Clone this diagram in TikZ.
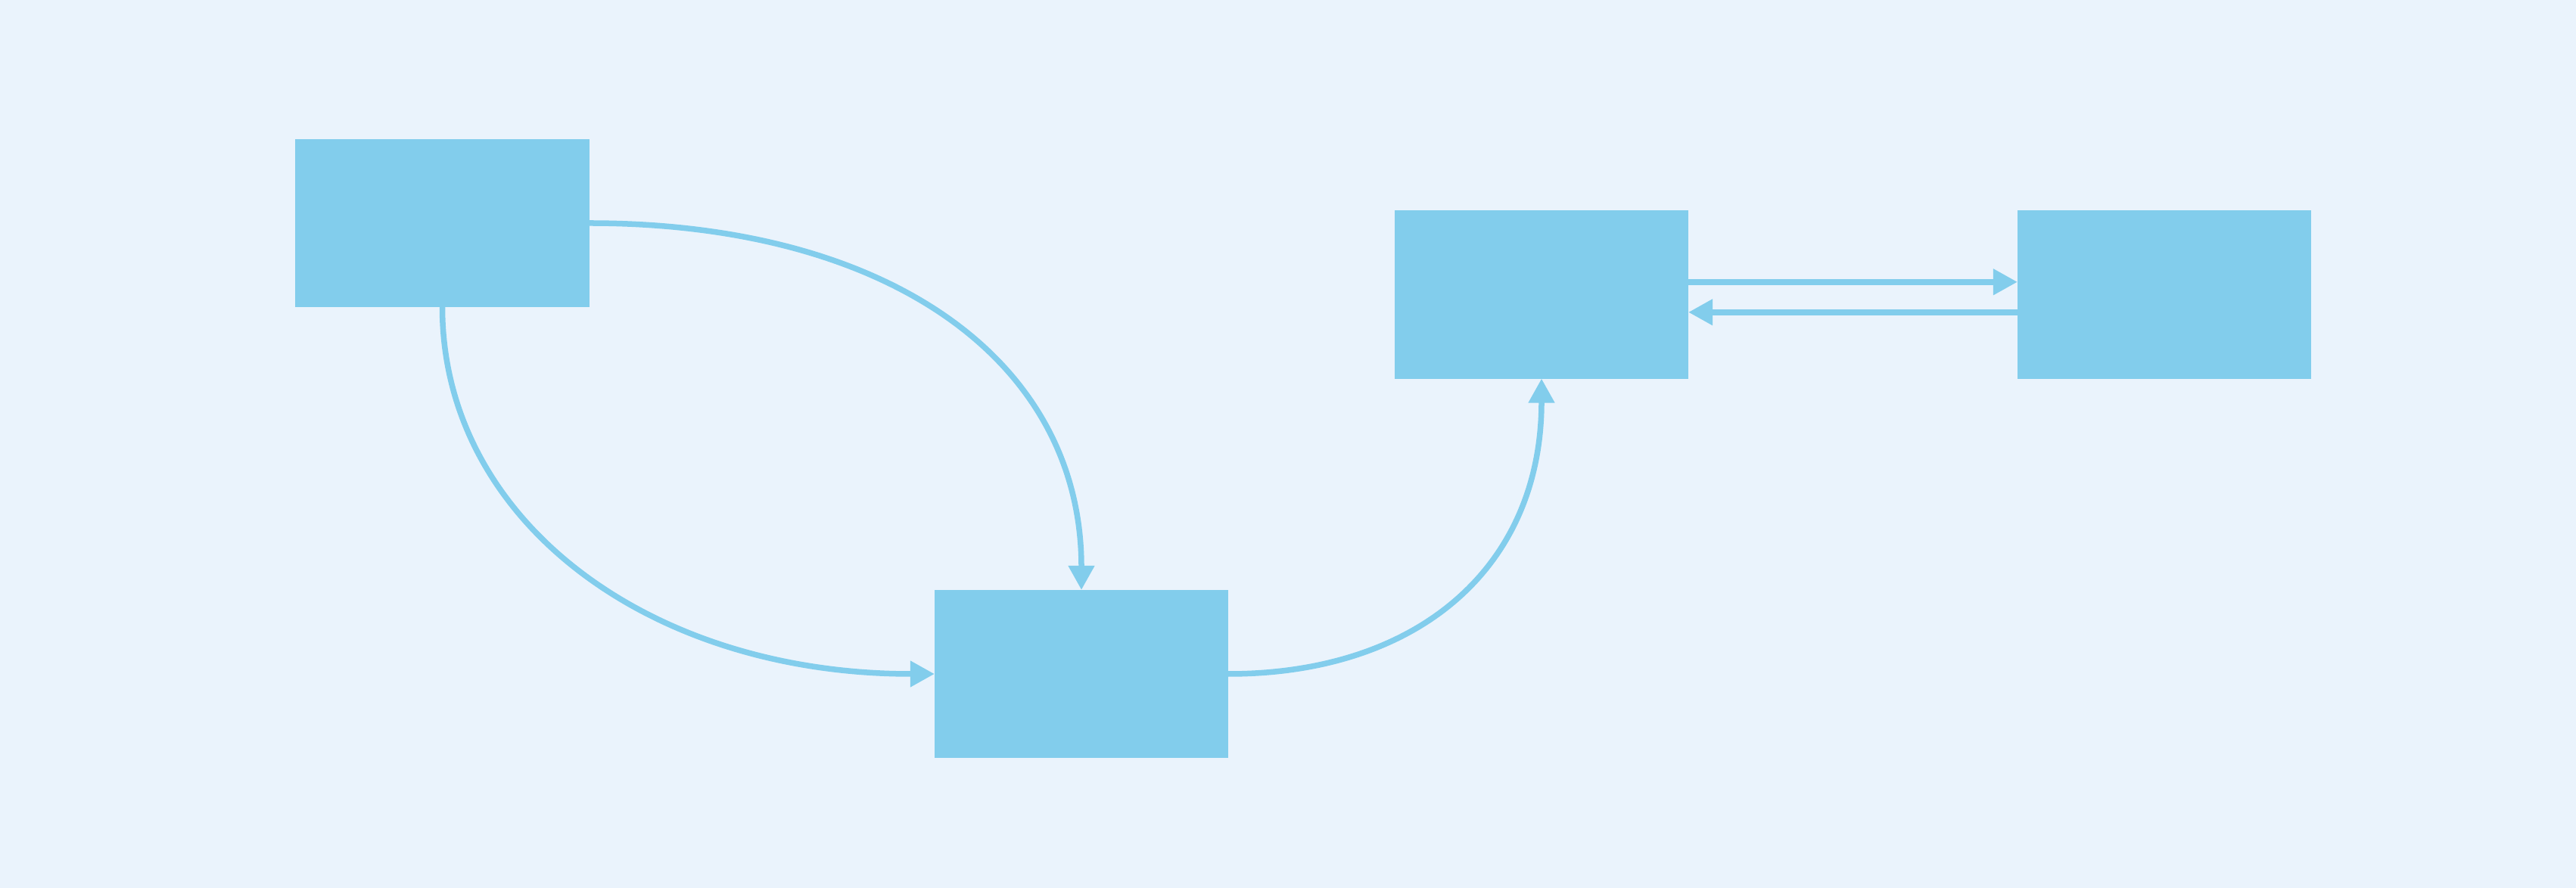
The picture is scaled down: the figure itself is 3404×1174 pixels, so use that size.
\documentclass[tikz,border=0pt]{standalone}
\usetikzlibrary{arrows.meta}
\definecolor{canvas}{RGB}{234,243,252}
\definecolor{boxblue}{RGB}{130,205,236}
\begin{document}
\begin{tikzpicture}[x=0.01cm,y=-0.01cm,
  block/.style={fill=boxblue, draw=none, minimum width=3.88cm, minimum height=2.22cm,
    inner sep=0pt, outer sep=0pt},
  link/.style={draw=boxblue, line width=0.075cm,
    -{Triangle[length=0.32cm,width=0.33cm]}}]
% background and page size
\fill[canvas] (0,0) rectangle (3404,1174);
\useasboundingbox (0,0) rectangle (3404,1174);

% blocks
\node[block] (a) at (584.5,295) {};
\node[block] (b) at (1429,891) {};
\node[block] (c) at (2037,389.5) {};
\node[block] (d) at (2860,389.5) {};

% curved links
\draw[link] (a.east) .. controls +(400,0) and +(0,-300) .. (b.north);
\draw[link] (a.south) .. controls +(0,280) and +(-380,0) .. (b.west);
\draw[link] (b.east) .. controls +(250,0) and +(0,250) .. (c.south);

% straight links between c and d
\draw[link] ([yshift=0.167cm]c.east) -- ([yshift=0.167cm]d.west);
\draw[link] ([yshift=-0.233cm]d.west) -- ([yshift=-0.233cm]c.east);
\end{tikzpicture}
\end{document}
